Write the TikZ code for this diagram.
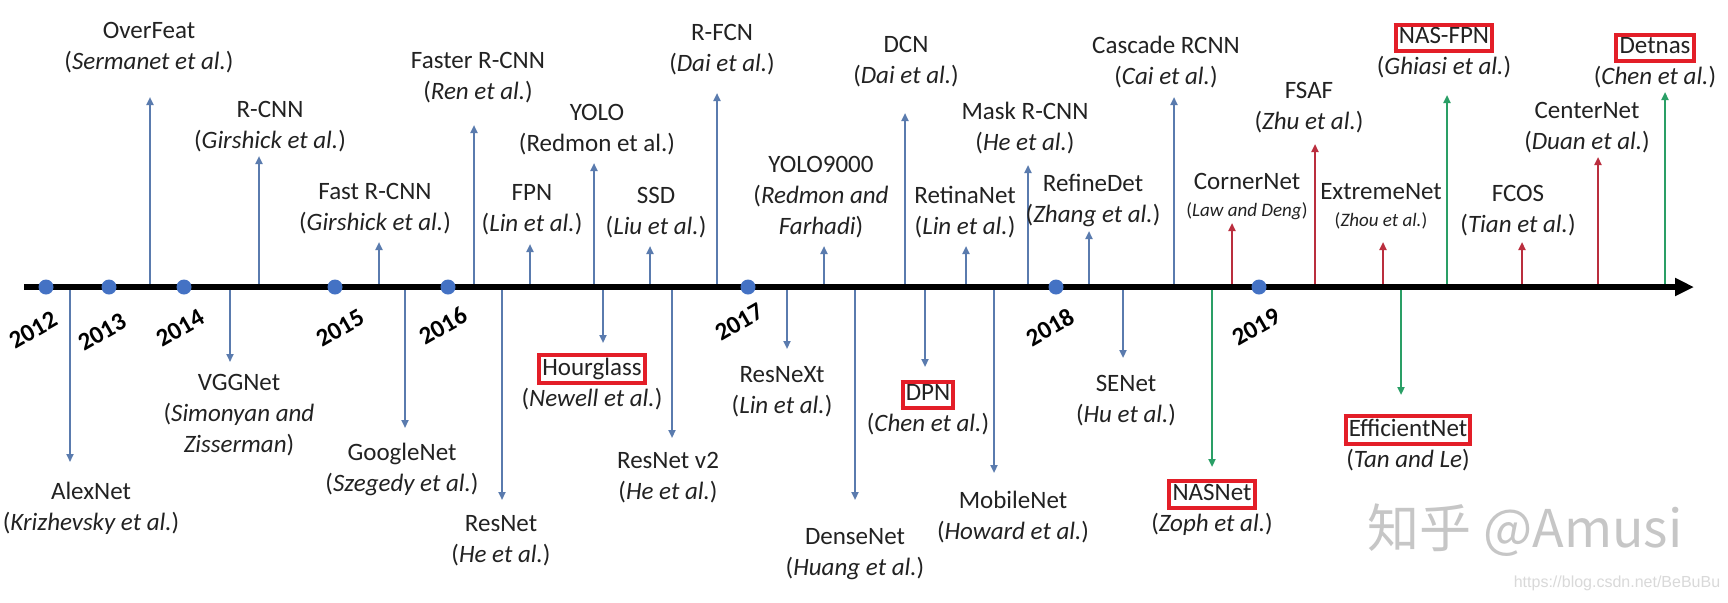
\documentclass[tikz,border=0pt]{standalone}
\usepackage{fontspec}
\setmainfont{Carlito}
\newfontfamily\cjkfont{Noto Sans CJK SC}
\newfontfamily\urlfont{Liberation Sans}
\usetikzlibrary{arrows.meta}

\definecolor{dotblue}{HTML}{4472C4}
\definecolor{stemblue}{HTML}{5A7BAE}
\definecolor{stemred}{HTML}{BA2E3E}
\definecolor{stemgreen}{HTML}{2A9F66}
\definecolor{boxred}{HTML}{E31E28}
\definecolor{txt}{HTML}{222222}

\setlength{\fboxrule}{2pt}
\setlength{\fboxsep}{0.6pt}
\newcommand{\au}[1]{(\textit{#1})}
\newcommand{\redbox}[1]{\fcolorbox{boxred}{white}{\vphantom{Ag}#1}}
\newcommand{\smallau}[1]{{\fontsize{9.5}{11}\selectfont(\textit{#1})}}

\tikzset{
  yeardot/.style = {circle, fill=dotblue, minimum size=7.5pt,
                    inner sep=0pt, outer sep=0pt},
  yearlbl/.style = {font=\bfseries\fontsize{12.5}{14}\selectfont,
                    rotate=30, inner sep=0pt},
  lbl/.style     = {align=center, text=txt, inner sep=0pt,
                    font=\fontsize{12.5}{15.5}\selectfont},
  event/.style   = {draw=#1, line width=1.05pt,
                    -{Triangle[length=4pt,width=3.5pt]}},
  event/.default = stemblue
}

\begin{document}
\begin{tikzpicture}[x=0.5pt, y=-0.5pt]
	\useasboundingbox (0,0) rectangle (1728,602);
	\fill[white] (0,0) rectangle (1728,602);

	% Axis ends
	\coordinate (start) at (24,287);
	\coordinate (end)   at (1694,287);

	% Tips, above the axis
	\coordinate (overfeat)   at (150,97);
	\coordinate (rcnn)       at (259,156);
	\coordinate (fastrcnn)   at (379,242);
	\coordinate (fasterrcnn) at (474,125);
	\coordinate (fpn)        at (530,244);
	\coordinate (yolo)       at (594,163);
	\coordinate (ssd)        at (650,246);
	\coordinate (rfcn)       at (717,93);
	\coordinate (yolo9000)   at (824,246);
	\coordinate (dcn)        at (905,113);
	\coordinate (retinanet)  at (966,246);
	\coordinate (maskrcnn)   at (1028,165);
	\coordinate (refinedet)  at (1089,231);
	\coordinate (cascade)    at (1174,97);
	\coordinate (cornernet)  at (1232,223);
	\coordinate (fsaf)       at (1315,144);
	\coordinate (extremenet) at (1383,242);
	\coordinate (nasfpn)     at (1447,95);
	\coordinate (fcos)       at (1522,242);
	\coordinate (centernet)  at (1598,157);
	\coordinate (detnas)     at (1665,92);

	% Tips, below the axis
	\coordinate (alexnet)      at (70,462);
	\coordinate (vggnet)       at (230,362);
	\coordinate (googlenet)    at (405,428);
	\coordinate (resnet)       at (502,500);
	\coordinate (hourglass)    at (603,343);
	\coordinate (resnetv2)     at (672,438);
	\coordinate (resnext)      at (787,349);
	\coordinate (densenet)     at (855,500);
	\coordinate (dpn)          at (925,367);
	\coordinate (mobilenet)    at (994,473);
	\coordinate (senet)        at (1123,358);
	\coordinate (nasnet)       at (1212,467);
	\coordinate (efficientnet) at (1401,395);

	% Stems up
	\draw[event] (overfeat |- start) -- (overfeat);
	\draw[event] (rcnn |- start) -- (rcnn);
	\draw[event] (fastrcnn |- start) -- (fastrcnn);
	\draw[event] (fasterrcnn |- start) -- (fasterrcnn);
	\draw[event] (fpn |- start) -- (fpn);
	\draw[event] (yolo |- start) -- (yolo);
	\draw[event] (ssd |- start) -- (ssd);
	\draw[event] (rfcn |- start) -- (rfcn);
	\draw[event] (yolo9000 |- start) -- (yolo9000);
	\draw[event] (dcn |- start) -- (dcn);
	\draw[event] (retinanet |- start) -- (retinanet);
	\draw[event] (maskrcnn |- start) -- (maskrcnn);
	\draw[event] (refinedet |- start) -- (refinedet);
	\draw[event] (cascade |- start) -- (cascade);
	\draw[event=stemred] (cornernet |- start) -- (cornernet);
	\draw[event=stemred] (fsaf |- start) -- (fsaf);
	\draw[event=stemred] (extremenet |- start) -- (extremenet);
	\draw[event=stemgreen] (nasfpn |- start) -- (nasfpn);
	\draw[event=stemred] (fcos |- start) -- (fcos);
	\draw[event=stemred] (centernet |- start) -- (centernet);
	\draw[event=stemgreen] (detnas |- start) -- (detnas);

	% Stems down
	\draw[event] (alexnet |- start) -- (alexnet);
	\draw[event] (vggnet |- start) -- (vggnet);
	\draw[event] (googlenet |- start) -- (googlenet);
	\draw[event] (resnet |- start) -- (resnet);
	\draw[event] (hourglass |- start) -- (hourglass);
	\draw[event] (resnetv2 |- start) -- (resnetv2);
	\draw[event] (resnext |- start) -- (resnext);
	\draw[event] (densenet |- start) -- (densenet);
	\draw[event] (dpn |- start) -- (dpn);
	\draw[event] (mobilenet |- start) -- (mobilenet);
	\draw[event] (senet |- start) -- (senet);
	\draw[event=stemgreen] (nasnet |- start) -- (nasnet);
	\draw[event=stemgreen] (efficientnet |- start) -- (efficientnet);

	% Time axis
	\draw[line width=3pt, -{Triangle[length=9.5pt,width=8.5pt]}] (start) -- (end);

	% Years
	\node[yeardot] (d2012) at (46,287) {};
	\node[yeardot] (d2013) at (109,287) {};
	\node[yeardot] (d2014) at (184,287) {};
	\node[yeardot] (d2015) at (335,287) {};
	\node[yeardot] (d2016) at (448,287) {};
	\node[yeardot] (d2017) at (748,287) {};
	\node[yeardot] (d2018) at (1056,287) {};
	\node[yeardot] (d2019) at (1259,287) {};
	\node[yearlbl] (y2012) at (33,330) {2012};
	\node[yearlbl] (y2013) at (102,332) {2013};
	\node[yearlbl] (y2014) at (180,328) {2014};
	\node[yearlbl] (y2015) at (340,328) {2015};
	\node[yearlbl] (y2016) at (443,326) {2016};
	\node[yearlbl] (y2017) at (739,322) {2017};
	\node[yearlbl] (y2018) at (1050,327) {2018};
	\node[yearlbl] (y2019) at (1256,327) {2019};

	% Labels above
	\node[lbl] (overfeat-l)   at (149,48)    {OverFeat\\\au{Sermanet et al.}};
	\node[lbl] (rcnn-l)       at (270,126.5) {R-CNN\\\au{Girshick et al.}};
	\node[lbl] (fastrcnn-l)   at (375,209)   {Fast R-CNN\\\au{Girshick et al.}};
	\node[lbl] (fasterrcnn-l) at (478,77.5)  {Faster R-CNN\\\au{Ren et al.}};
	\node[lbl] (fpn-l)        at (532,210)   {FPN\\\au{Lin et al.}};
	\node[lbl] (yolo-l)       at (597,130)   {YOLO\\(Redmon et al.)};
	\node[lbl] (ssd-l)        at (656,213)   {SSD\\\au{Liu et al.}};
	\node[lbl] (rfcn-l)       at (722,49.5)  {R-FCN\\\au{Dai et al.}};
	\node[lbl] (yolo9000-l)   at (821,197)   {YOLO9000\\(\textit{Redmon and}\\\textit{Farhadi})};
	\node[lbl] (dcn-l)        at (906,61.5)  {DCN\\\au{Dai et al.}};
	\node[lbl] (retinanet-l)  at (965,212.5) {RetinaNet\\\au{Lin et al.}};
	\node[lbl] (maskrcnn-l)   at (1025,128)  {Mask R-CNN\\\au{He et al.}};
	\node[lbl] (refinedet-l)  at (1093,200)  {RefineDet\\\au{Zhang et al.}};
	\node[lbl] (cascade-l)    at (1166,62.5) {Cascade RCNN\\\au{Cai et al.}};
	\node[lbl] (cornernet-l)  at (1247,196.5) {CornerNet\\[-2pt]\smallau{Law and Deng}};
	\node[lbl] (fsaf-l)       at (1309,108)  {FSAF\\\au{Zhu et al.}};
	\node[lbl] (extremenet-l) at (1381,206)  {ExtremeNet\\[-2pt]\smallau{Zhou et al.}};
	\node[lbl] (nasfpn-l)     at (1444,50.5) {\redbox{NAS-FPN}\\\au{Ghiasi et al.}};
	\node[lbl] (fcos-l)       at (1518,211)  {FCOS\\\au{Tian et al.}};
	\node[lbl] (centernet-l)  at (1587,128)  {CenterNet\\\au{Duan et al.}};
	\node[lbl] (detnas-l)     at (1655,60.5) {\redbox{Detnas}\\\au{Chen et al.}};

	% Labels below
	\node[lbl] (alexnet-l)      at (91,508)    {AlexNet\\\au{Krizhevsky et al.}};
	\node[lbl] (vggnet-l)       at (239,415)   {VGGNet\\(\textit{Simonyan and}\\\textit{Zisserman})};
	\node[lbl] (googlenet-l)    at (402,469)   {GoogleNet\\\au{Szegedy et al.}};
	\node[lbl] (resnet-l)       at (501,541)   {ResNet\\\au{He et al.}};
	\node[lbl] (hourglass-l)    at (592,381.5) {\redbox{Hourglass}\\\au{Newell et al.}};
	\node[lbl] (resnetv2-l)     at (668,478)   {ResNet v2\\\au{He et al.}};
	\node[lbl] (resnext-l)      at (782,392)   {ResNeXt\\\au{Lin et al.}};
	\node[lbl] (densenet-l)     at (855,554)   {DenseNet\\\au{Huang et al.}};
	\node[lbl] (dpn-l)          at (928,407.5) {\redbox{DPN}\\\au{Chen et al.}};
	\node[lbl] (mobilenet-l)    at (1013,517)  {MobileNet\\\au{Howard et al.}};
	\node[lbl] (senet-l)        at (1126,401)  {SENet\\\au{Hu et al.}};
	\node[lbl] (nasnet-l)       at (1212,507.5) {\redbox{NASNet}\\\au{Zoph et al.}};
	\node[lbl] (efficientnet-l) at (1408,442.5) {\redbox{EfficientNet}\\\au{Tan and Le}};

	% Watermarks
	\node[font=\cjkfont\fontsize{26}{26}\selectfont, text=gray!45] (wm) at (1525,530) {知乎 @Amusi};
	\node[font=\urlfont\fontsize{8}{9}\selectfont, text=gray!30] (url) at (1617,583) {https://blog.csdn.net/BeBuBu};
\end{tikzpicture}
\end{document}
